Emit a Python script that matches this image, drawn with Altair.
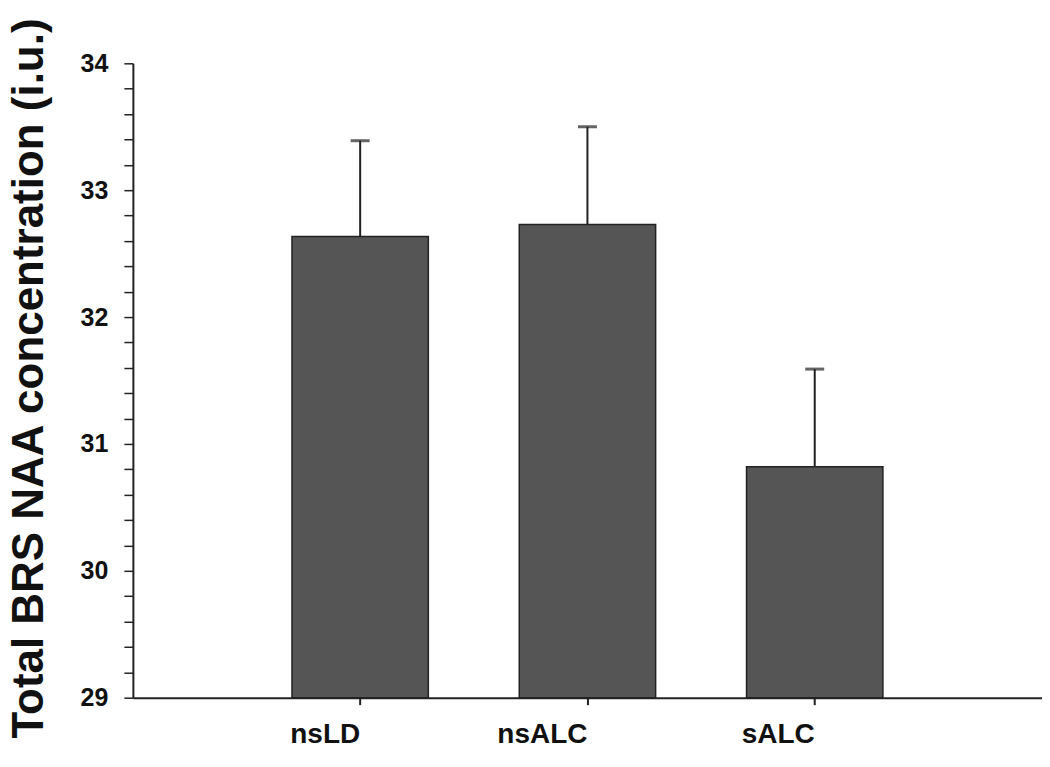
import altair as alt
import pandas as pd

groups = ["nsLD", "nsALC", "sALC"]
means = [32.635, 32.73, 30.82]
upper = [33.39, 33.50, 31.59]

df = pd.DataFrame({"group": groups, "mean": means, "upper": upper})

y_ticks = [round(29 + 0.2 * i, 1) for i in range(26)]

x_enc = alt.X(
    "group:N",
    sort=groups,
    scale=alt.Scale(paddingInner=0.4, paddingOuter=0.7),
    axis=alt.Axis(
        title=None,
        labelAngle=0,
        labelFont="Liberation Sans",
        labelFontWeight="bold",
        labelFontSize=28,
        labelColor="#111111",
        labelPadding=30,
        tickSize=7,
        tickWidth=2,
        tickColor="#222222",
        domainColor="#222222",
        domainWidth=2,
        grid=False,
    ),
)

y_scale = alt.Scale(domain=[29, 34], nice=False, zero=False)

bars = alt.Chart(df).mark_bar(
    color="#555555", stroke="#222222", strokeWidth=1.5
).encode(
    x=x_enc,
    y=alt.Y(
        "mean:Q",
        scale=y_scale,
        axis=alt.Axis(
            values=y_ticks,
            tickCount=40,
            labelExpr="abs(datum.value - round(datum.value)) < 0.01 ? format(datum.value, 'd') : ''",
            labelOverlap=False,
            labelFlush=False,
            labelFont="Liberation Sans",
            labelFontWeight="bold",
            labelFontSize=25,
            labelColor="#111111",
            labelPadding=16,
            tickSize=9,
            tickWidth=1.5,
            tickColor="#222222",
            domainColor="#222222",
            domainWidth=2,
            grid=False,
            title="Total BRS NAA concentration (i.u.)",
            titleFont="Liberation Sans",
            titleFontWeight="bold",
            titleFontSize=44,
            titleColor="#111111",
            titleAngle=-90,
            titleAlign="center",
            titleBaseline="alphabetic",
            titleX=-90,
            titleY=315,
        ),
    ),
    y2=alt.Y2(datum=29),
)

rules = alt.Chart(df).mark_rule(color="#222222", strokeWidth=2).encode(
    x=alt.X("group:N", sort=groups),
    y=alt.Y("mean:Q", scale=y_scale),
    y2="upper:Q",
)

caps = alt.Chart(df).mark_tick(color="#222222", thickness=3, size=19).encode(
    x=alt.X("group:N", sort=groups),
    y=alt.Y("upper:Q", scale=y_scale),
)

chart = (
    alt.layer(rules, bars, caps)
    .properties(
        width=910,
        height=635,
        background="white",
        autosize=alt.AutoSizeParams(type="none"),
        padding={"left": 125, "top": 55, "right": 0, "bottom": 60},
    )
    .configure_view(strokeWidth=0)
    .configure_axis(grid=False)
)

chart.save("out.html", embed_options={"renderer": "svg", "actions": False})
